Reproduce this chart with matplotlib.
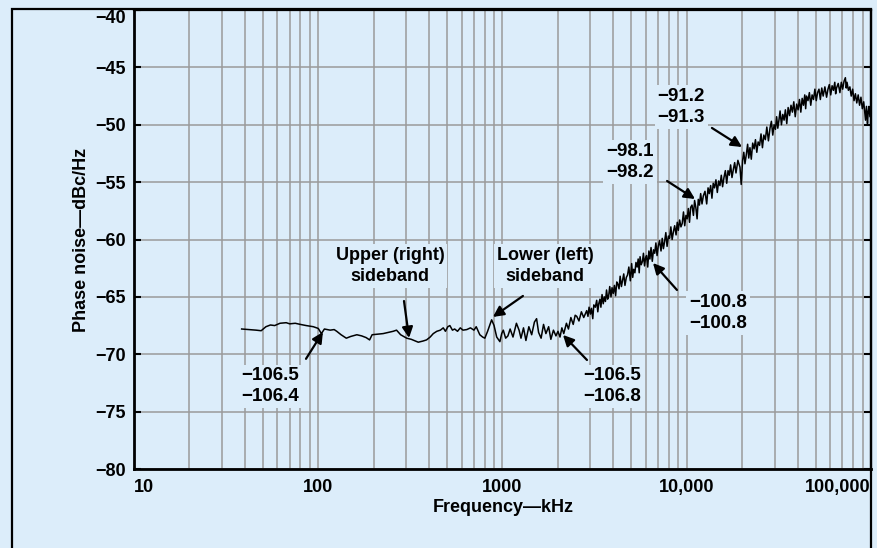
import matplotlib.pyplot as plt
from matplotlib.patches import Rectangle
from matplotlib.ticker import NullFormatter, LogLocator

plt.rcParams['font.family'] = ['Liberation Sans', 'DejaVu Sans']

freq_khz = [38.4, 42, 46, 49, 52, 55, 58, 62, 67, 70, 75, 80, 86, 94, 100, 104, 108, 116, 122, 126,
            133, 142, 150, 162, 172, 182, 190, 196, 210, 225, 240, 255, 266, 280, 302, 320, 349, 370, 387, 405,
            421, 440, 460, 477, 490, 505, 518, 535, 550, 570, 590, 610, 640, 670, 700, 720, 753, 780, 802, 830,
            873, 900, 930, 968, 990, 1010, 1040, 1070, 1100, 1140, 1190, 1230, 1260, 1300, 1340, 1390, 1440, 1490, 1531, 1570,
            1620, 1670, 1720, 1780, 1830, 1890, 1950, 2000, 2052, 2100, 2150, 2223, 2280, 2350, 2420, 2480, 2530, 2600, 2680, 2760,
            2864, 2910, 2950, 3000, 3040, 3090, 3130, 3190, 3245, 3290, 3330, 3380, 3420, 3470, 3522, 3570, 3620, 3670, 3720, 3770,
            3820, 3880, 3930, 3990, 4050, 4110, 4171, 4230, 4290, 4350, 4420, 4480, 4550, 4620, 4700, 4770, 4850, 4940, 5023, 5090,
            5150, 5230, 5300, 5380, 5450, 5520, 5580, 5660, 5750, 5820, 5900, 5980, 6050, 6140, 6230, 6310, 6400, 6500, 6600, 6700,
            6800, 6900, 7000, 7120, 7250, 7360, 7470, 7580, 7700, 7820, 7950, 8070, 8200, 8330, 8470, 8600, 8750, 8880, 9000, 9150,
            9300, 9450, 9600, 9750, 9900, 10050, 10200, 10350, 10500, 10680, 10870, 11030, 11200, 11380, 11550, 11720, 11900, 12100, 12300, 12560,
            12830, 13050, 13250, 13480, 13700, 13920, 14150, 14400, 14650, 14900, 15140, 15400, 15650, 15920, 16200, 16480, 16750, 17020, 17300, 17600,
            17900, 18200, 18500, 18950, 19450, 19750, 20100, 20400, 20700, 21050, 21400, 21700, 22030, 22400, 22800, 23200, 23600, 24000, 24400, 24850,
            25300, 25750, 26200, 26700, 27200, 27750, 28300, 28800, 29300, 29800, 30300, 30750, 31200, 31650, 32100, 32650, 33200, 33750, 34300, 34900,
            35500, 36150, 36800, 37450, 38100, 38800, 39500, 40200, 40900, 41600, 42300, 43000, 43700, 44200, 44700, 45500, 46300, 47100, 47900, 48750,
            49600, 50450, 51300, 52200, 53100, 54050, 55000, 56200, 57400, 58400, 59400, 60450, 61500, 62550, 63600, 64300, 65000, 66400, 67800, 69000,
            70200, 71400, 72600, 73400, 74100, 75400, 76800, 78100, 79500, 80900, 82300, 83700, 85200, 86700, 88200, 89700, 91300, 92300, 93400, 94500,
            95700, 96600, 97500, 98700, 100000]
noise_dbc = [-67.8, -67.85, -67.9, -67.95, -67.6, -67.45, -67.5, -67.3, -67.25, -67.35, -67.3, -67.4, -67.5, -67.6, -67.75, -68.2, -67.8, -67.9, -67.85, -68.0,
             -68.3, -68.6, -68.45, -68.3, -68.4, -68.55, -68.75, -68.3, -68.25, -68.2, -68.1, -68.0, -67.9, -68.3, -68.6, -68.7, -68.95, -68.85, -68.75, -68.5,
             -68.2, -68.0, -67.9, -67.7, -68.0, -67.6, -67.5, -67.9, -67.8, -68.0, -67.7, -67.9, -67.85, -67.7, -67.9, -67.6, -68.3, -68.5, -68.6, -68.0,
             -67.0, -67.5, -68.5, -68.9, -68.2, -67.9, -68.6, -68.4, -67.8, -68.5, -67.3, -67.9, -68.6, -67.7, -68.8, -67.6, -68.3, -67.2, -66.9, -68.1,
             -68.6, -67.4, -68.2, -67.6, -68.7, -67.9, -68.4, -68.0, -68.5, -67.7, -68.2, -67.3, -67.8, -66.8, -67.4, -66.6, -66.7, -67.1, -66.3, -66.8,
             -66.2, -66.7, -65.9, -66.5, -66.0, -66.9, -65.7, -65.9, -65.3, -66.3, -65.6, -65.2, -65.9, -64.8, -65.6, -65.0, -65.4, -64.4, -65.2, -64.9,
             -64.1, -65.0, -64.2, -64.7, -64.0, -64.9, -63.7, -63.9, -64.3, -63.2, -64.1, -63.6, -63.0, -64.0, -63.3, -63.1, -62.4, -63.6, -62.1, -63.3,
             -62.6, -62.9, -62.0, -62.4, -61.7, -62.9, -61.5, -62.2, -61.9, -61.2, -62.3, -61.6, -61.4, -62.4, -61.0, -61.7, -60.7, -61.9, -60.9, -61.2,
             -60.3, -61.4, -60.6, -60.1, -61.0, -59.9, -60.8, -60.2, -59.4, -60.6, -59.7, -59.9, -58.9, -60.0, -59.3, -58.8, -59.6, -58.5, -59.2, -58.3,
             -58.9, -58.6, -57.6, -58.8, -57.9, -58.2, -57.3, -58.5, -57.2, -57.0, -57.9, -56.6, -57.2, -58.2, -56.5, -57.0, -56.0, -56.9, -56.2, -55.8,
             -56.9, -55.5, -56.0, -55.3, -56.4, -55.1, -55.5, -54.8, -55.9, -54.9, -55.3, -54.4, -55.4, -54.6, -54.0, -55.1, -54.0, -54.4, -53.5, -54.6,
             -53.9, -53.3, -54.2, -53.1, -53.7, -55.2, -53.1, -52.4, -53.4, -52.6, -51.7, -52.9, -52.0, -53.0, -51.6, -52.1, -51.3, -52.4, -51.5, -51.8,
             -50.8, -52.0, -50.9, -51.3, -50.2, -51.4, -50.3, -49.7, -50.9, -50.0, -50.4, -49.3, -50.3, -49.6, -48.8, -50.0, -49.1, -49.6, -48.7, -49.9,
             -48.5, -49.2, -48.3, -48.9, -48.0, -49.3, -48.2, -48.7, -47.8, -48.9, -47.7, -48.3, -47.4, -48.6, -47.5, -47.9, -47.2, -48.3, -47.4, -47.8,
             -46.9, -47.9, -47.2, -46.9, -47.8, -46.8, -47.5, -46.7, -47.6, -46.9, -46.5, -47.4, -46.6, -47.0, -46.3, -47.3, -46.8, -46.4, -47.2, -46.3,
             -46.9, -46.2, -45.9, -46.8, -46.3, -47.0, -46.7, -47.5, -46.9, -47.9, -47.3, -48.1, -47.4, -48.3, -47.6, -48.6, -48.0, -48.8, -49.6, -48.4,
             -49.9, -48.9, -48.4, -49.3, -48.8]

y_ticks = [-80, -75, -70, -65, -60, -55, -50, -45, -40]
y_labels = ['\u221280', '\u221275', '\u221270', '\u221265', '\u221260', '\u221255', '\u221250', '\u221245', '\u221240']
x_ticks = [10, 100, 1000, 10000, 100000]
x_labels = ['10', '100', '1000', '10,000', '100,000']

bg = '#dcedfa'
W, H = 878, 548

fig = plt.figure(figsize=(W / 100, H / 100), dpi=100, facecolor=bg)
ax = fig.add_axes([134 / W, 79 / H, 737 / W, 459 / H])
ax.set_facecolor(bg)
ax.set_xscale('log')
ax.set_xlim(10, 100000)
ax.set_ylim(-80, -40)

ax.plot(freq_khz, noise_dbc, color='black', lw=1.1, zorder=3)

ax.xaxis.set_minor_locator(LogLocator(subs=range(2, 10)))
ax.xaxis.set_minor_formatter(NullFormatter())
ax.set_xticks(x_ticks)
ax.set_xticklabels(x_labels, fontsize=13, fontweight='bold')
ax.set_yticks(y_ticks)
ax.set_yticklabels(y_labels, fontsize=13, fontweight='bold')
ax.grid(axis='x', which='both', color='#9a9a9a', lw=1.1, zorder=1)
ax.grid(axis='y', which='major', color='#9a9a9a', lw=1.1, zorder=1)

ax.tick_params(axis='x', which='both', length=0, pad=7)
ax.tick_params(axis='y', which='major', direction='in', length=5, width=1.5,
               left=True, right=True, pad=6)
ax.get_yticklabels()[-1].set_va('top')
ax.get_xticklabels()[0].set_ha('left')
ax.get_xticklabels()[-1].set_ha('right')

for s in ['left', 'bottom']:
    ax.spines[s].set_linewidth(2.0)
for s in ['top', 'right']:
    ax.spines[s].set_linewidth(1.6)

fig.text(81 / W, 1 - 240 / H, 'Phase noise\u2014dBc/Hz', rotation=90, ha='center', va='center',
         fontsize=13, fontweight='bold')
fig.text(503 / W, 1 - 508 / H, 'Frequency\u2014kHz', ha='center', va='center',
         fontsize=13, fontweight='bold')

# outer frame
fig.add_artist(Rectangle((12 / W, -0.1), (871 - 12) / W, 1.1 - 9 / H, transform=fig.transFigure,
                         fill=False, edgecolor='black', lw=1.6, clip_on=False))

notes = [
    ('\u2212106.5\n\u2212106.4', (54.7, -72.8), (85.8, -70.4), (106, -68.06), 13.5),
    ('Upper (right)\nsideband', (245, -62.3), (292, -65.36), (311, -68.58), 13),
    ('Lower (left)\nsideband', (1701, -62.3), (1291, -64.92), (887, -66.75), 13),
    ('\u2212106.5\n\u2212106.8', (3927, -72.8), (2874, -70.5), (2130, -68.32), 13.5),
    ('\u2212100.8\n\u2212100.8', (14775, -66.4), (8850, -64.4), (6560, -62.05), 13.5),
    ('\u221298.1\n\u221298.2', (4920, -53.25), (7820, -54.9), (11090, -56.47), 13.5),
    ('\u221291.2\n\u221291.3', (9310, -48.45), (13700, -50.28), (19950, -51.94), 13.5),
]
for label, txt, tail, tip, fs in notes:
    ax.text(txt[0], txt[1], label, ha='center', va='center', fontsize=fs, fontweight='bold',
            linespacing=1.3, zorder=4,
            bbox=dict(facecolor=bg, edgecolor='none', pad=2))
    ax.annotate('', xy=tip, xytext=tail, zorder=5,
                arrowprops=dict(arrowstyle='-|>', color='black', lw=1.6, mutation_scale=16,
                                shrinkA=0, shrinkB=0))

fig.savefig('out.png', dpi=100, facecolor=bg)
